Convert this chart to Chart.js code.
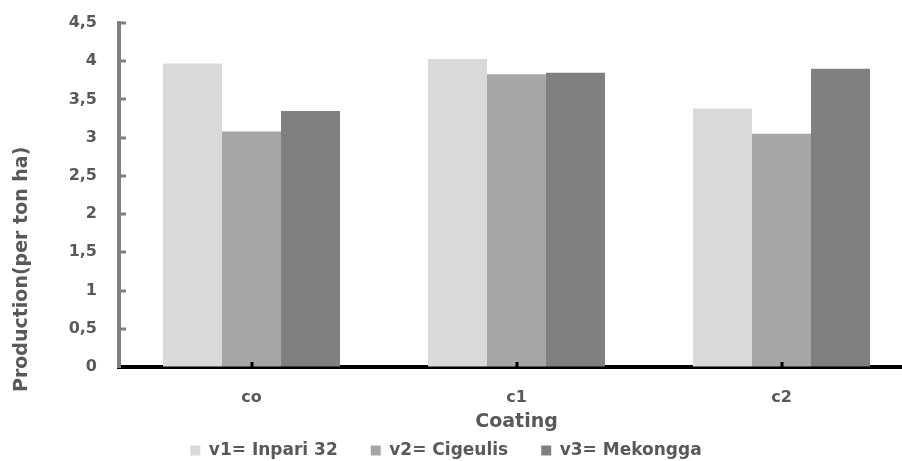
<!DOCTYPE html>
<html>
<head>
<meta charset="utf-8">
<script src="https://cdn.jsdelivr.net/npm/chart.js@4.4.1/dist/chart.umd.min.js"></script>
<style>
  html, body { margin: 0; padding: 0; background: #ffffff; overflow: hidden; width: 902px; height: 461px; }
  #wrap { position: absolute; left: -22px; top: 0; width: 936px; height: 469px; }
</style>
</head>
<body>
<div id="wrap"><canvas id="c" width="936" height="469"></canvas></div>
<script>
const categories = ['co', 'c1', 'c2'];
const seriesNames = ['v1= Inpari 32', 'v2= Cigeulis', 'v3= Mekongga'];
const v1Values = [3.97, 4.03, 3.38];
const v2Values = [3.08, 3.83, 3.05];
const v3Values = [3.35, 3.85, 3.90];
const yTickLabels = ['0', '0,5', '1', '1,5', '2', '2,5', '3', '3,5', '4', '4,5'];
const xTitle = 'Coating';
const yTitle = 'Production(per ton ha)';
const seriesColors = ['#d9d9d9', '#a6a6a6', '#808080'];
const textColor = '#595959';
const fontFamily = '"DejaVu Sans", sans-serif';

const extras = {
  id: 'extras',
  afterDraw(chart) {
    const ctx = chart.ctx;
    const y = chart.scales.y, x = chart.scales.x;
    const area = chart.chartArea;
    ctx.save();
    // inside tick marks on the value axis
    ctx.fillStyle = '#808080';
    y.ticks.forEach((t, i) => {
      if (i === 0) return;
      const py = y.getPixelForTick(i);
      ctx.fillRect(area.left, Math.round(py) - 1.5, 7, 3);
    });
    // inside tick marks on the category axis
    ctx.fillStyle = '#000000';
    categories.forEach((c, i) => {
      const px = x.getPixelForValue(i);
      ctx.fillRect(Math.round(px) - 1.5, area.bottom - 5, 3, 5);
    });
    // value axis title
    ctx.translate(y.left + 44, area.bottom + 25);
    ctx.rotate(-Math.PI / 2);
    ctx.fillStyle = textColor;
    ctx.font = 'bold 19px ' + fontFamily;
    ctx.textAlign = 'left';
    ctx.textBaseline = 'middle';
    ctx.fillText(yTitle, 0, 0);
    ctx.restore();
  }
};

new Chart(document.getElementById('c'), {
  type: 'bar',
  data: {
    labels: categories,
    datasets: [
      { label: seriesNames[0], data: v1Values, backgroundColor: seriesColors[0], borderWidth: 0 },
      { label: seriesNames[1], data: v2Values, backgroundColor: seriesColors[1], borderWidth: 0 },
      { label: seriesNames[2], data: v3Values, backgroundColor: seriesColors[2], borderWidth: 0 }
    ]
  },
  options: {
    responsive: false,
    animation: false,
    devicePixelRatio: 1,
    layout: { padding: { top: 23, left: 0, right: 0, bottom: 0 } },
    datasets: { bar: { categoryPercentage: 0.668, barPercentage: 1.0 } },
    plugins: {
      tooltip: { enabled: false },
      legend: {
        position: 'bottom',
        align: 'center',
        labels: {
          boxWidth: 10,
          boxHeight: 10,
          padding: 33,
          color: textColor,
          font: { family: fontFamily, size: 17, weight: 'bold' },
          generateLabels(chart) {
            const items = Chart.defaults.plugins.legend.labels.generateLabels(chart);
            items.forEach(it => { it.lineWidth = 0; it.strokeStyle = 'rgba(0,0,0,0)'; });
            return items;
          }
        }
      }
    },
    scales: {
      x: {
        grid: { display: true, drawOnChartArea: false, drawTicks: true, tickLength: 18, tickColor: 'rgba(0,0,0,0)' },
        border: { display: true, color: '#000000', width: 4 },
        ticks: { color: textColor, padding: 3, font: { family: fontFamily, size: 16, weight: 'bold' } },
        title: {
          display: true, text: xTitle, color: textColor,
          font: { family: fontFamily, size: 19, weight: 'bold' },
          padding: { top: 0, bottom: -24 }
        },
        afterFit(scale) { scale.height = 42; }
      },
      y: {
        min: 0, max: 4.5,
        grid: { display: true, drawOnChartArea: false, drawTicks: true, tickLength: 20, tickColor: 'rgba(0,0,0,0)' },
        border: { display: true, color: '#808080', width: 4 },
        ticks: {
          stepSize: 0.5, padding: 2, color: textColor,
          font: { family: fontFamily, size: 16, weight: 'bold' },
          callback: (v, i) => yTickLabels[i]
        },
        title: { display: false },
        afterFit(scale) { scale.width = 141; }
      }
    }
  },
  plugins: [extras]
});
</script>
</body>
</html>
